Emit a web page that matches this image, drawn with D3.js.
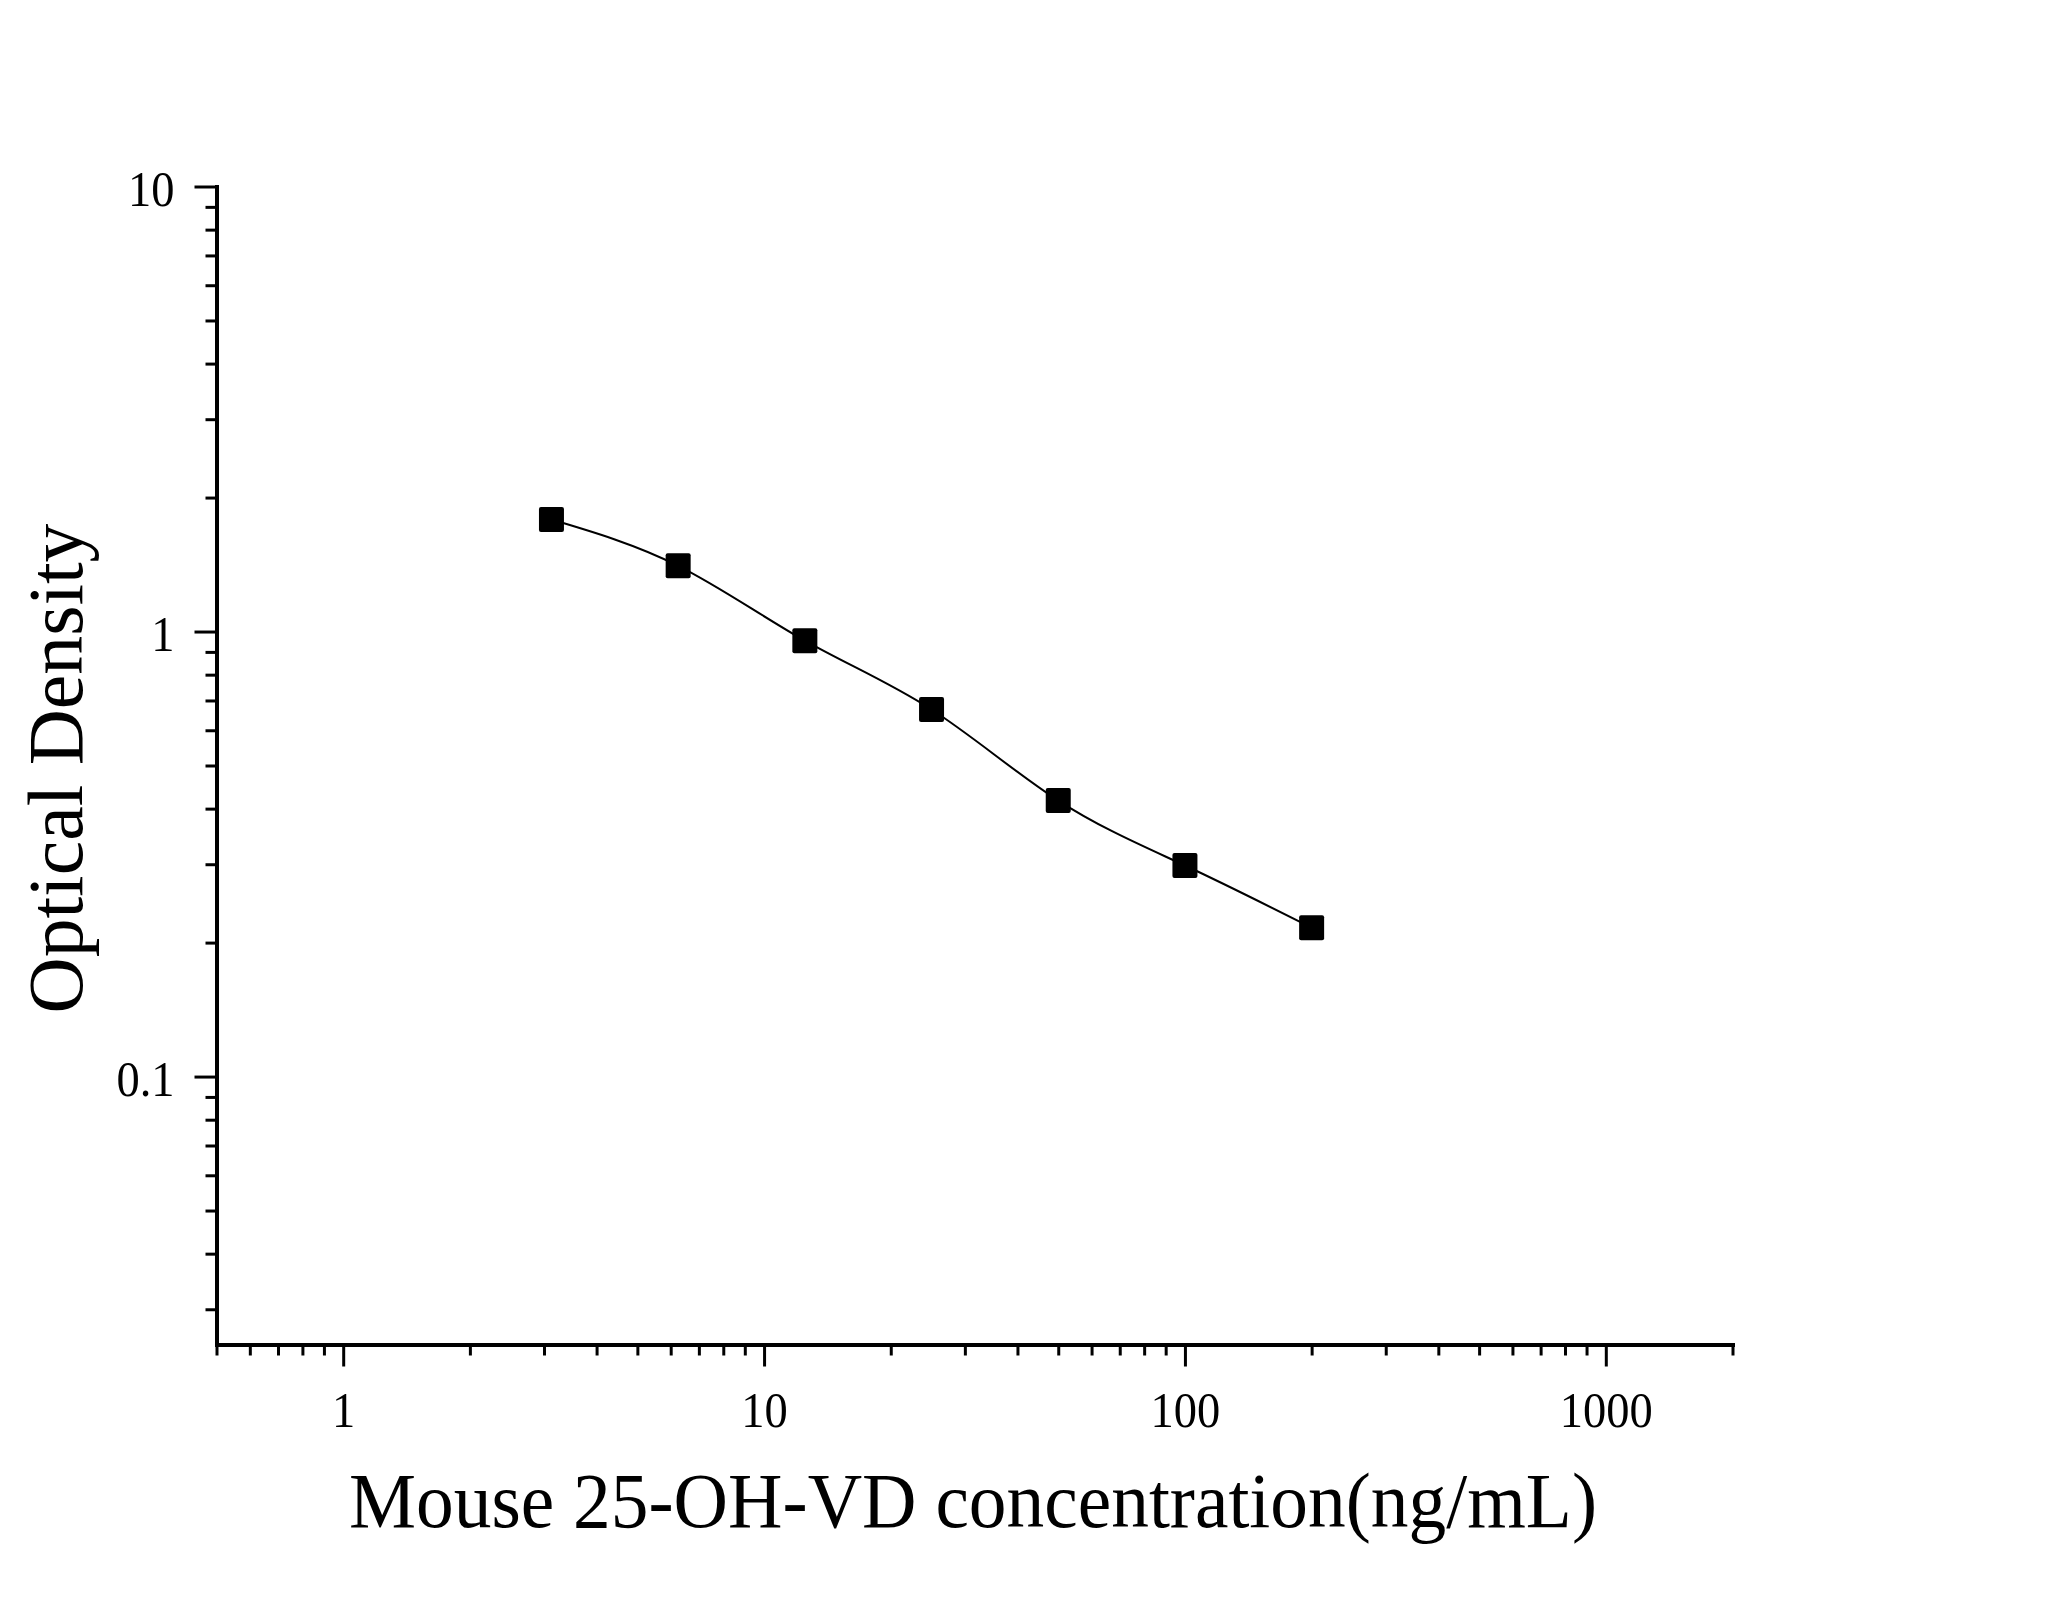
<!DOCTYPE html>
<html>
<head>
<meta charset="utf-8">
<script src="https://cdn.jsdelivr.net/npm/d3@7"></script>
<style>
	body{ margin:0; background:#fff; }
	text{ font-family:"Liberation Serif","Times New Roman",serif; fill:#000; }
</style>
</head>
<body>
<div id="chart"></div>
<script>
// standard curve: concentration (ng/mL) vs OD
var concentration = [3.125, 6.25, 12.5, 25, 50, 100, 200];
var opticalDensity = [1.785, 1.405, 0.954, 0.668, 0.417, 0.298, 0.216];

var xMajorTicks = [1, 10, 100, 1000];
var xMinorTicks = [0.5, 0.6, 0.7, 0.8, 0.9, 2, 3, 4, 5, 6, 7, 8, 9,
	20, 30, 40, 50, 60, 70, 80, 90, 200, 300, 400, 500, 600, 700, 800, 900, 2000];
var yMajorTicks = [0.1, 1, 10];
var yTickLabels = ["0.1", "1", "10"];
var yMinorTicks = [0.03, 0.04, 0.05, 0.06, 0.07, 0.08, 0.09,
	0.2, 0.3, 0.4, 0.5, 0.6, 0.7, 0.8, 0.9, 2, 3, 4, 5, 6, 7, 8, 9];

var xTitle = "Mouse 25-OH-VD concentration(ng/mL)";
var yTitle = "Optical Density";

var W = 2048, H = 1614;
var margin = {left:216.5, top:186.5, right:W - 1732.5, bottom:H - 1344.5};
var width = W - margin.left - margin.right;
var height = H - margin.top - margin.bottom;
var sx = 0.93; // tick labels are a bit narrow in the original

var svg = d3.select("#chart").append("svg")
	.attr("width", W)
	.attr("height", H);

var g = svg.append("g")
	.attr("transform", "translate(" + [margin.left, margin.top] + ")");

var x = d3.scaleLog().domain([0.5, 2000]).range([0, width]);
var y = d3.scaleLog().domain([0.025, 10]).range([height, 0]);

// minor ticks first, then major axis with domain line on top
g.append("g")
	.attr("class", "x minor")
	.attr("transform", "translate(0," + height + ")")
	.call(d3.axisBottom(x).tickValues(xMinorTicks).tickSize(11).tickFormat(""));

g.append("g")
	.attr("class", "y minor")
	.call(d3.axisLeft(y).tickValues(yMinorTicks).tickSize(11).tickFormat(""));

g.append("g")
	.attr("class", "x major")
	.attr("transform", "translate(0," + height + ")")
	.call(d3.axisBottom(x).tickValues(xMajorTicks).tickSize(22).tickSizeOuter(0)
		.tickPadding(25).tickFormat(function(d){ return d; }));

g.append("g")
	.attr("class", "y major")
	.call(d3.axisLeft(y).tickValues(yMajorTicks).tickSize(22).tickSizeOuter(0)
		.tickFormat(function(d, i){ return yTickLabels[i]; }));

g.selectAll(".minor .domain").remove();
g.selectAll(".tick line").attr("stroke", "#000").attr("stroke-width", 3);
g.selectAll(".domain").attr("stroke", "#000").attr("stroke-width", 4).attr("stroke-linecap", "square");
g.selectAll(".major .tick text")
	.style("font-family", "'Liberation Serif', serif")
	.attr("font-size", 50)
	.attr("fill", "#000");
g.selectAll(".x.major .tick text")
	.attr("dy", "0.71em")
	.attr("transform", "scale(" + sx + ",1)");
g.selectAll(".y.major .tick text")
	.attr("dy", "0.38em")
	.attr("x", -42 / sx)
	.attr("transform", "scale(" + sx + ",1)");

// fitted curve through the standards
var line = d3.line()
	.x(function(d, i){ return x(concentration[i]); })
	.y(function(d){ return y(d); })
	.curve(d3.curveNatural);

g.append("path")
	.datum(opticalDensity)
	.attr("fill", "none")
	.attr("stroke", "#000")
	.attr("stroke-width", 2)
	.attr("d", line);

var s = 25;
g.selectAll("rect.pt")
	.data(opticalDensity)
	.enter()
	.append("rect")
	.attr("class", "pt")
	.attr("x", function(d, i){ return x(concentration[i]) - s / 2; })
	.attr("y", function(d){ return y(d) - s / 2; })
	.attr("width", s)
	.attr("height", s)
	.attr("rx", 2)
	.attr("fill", "#000");

// axis titles
svg.append("text")
	.attr("x", 973)
	.attr("y", 1527)
	.attr("text-anchor", "middle")
	.attr("font-size", 79)
	.attr("textLength", 1248)
	.attr("lengthAdjust", "spacingAndGlyphs")
	.text(xTitle);

svg.append("text")
	.attr("transform", "translate(82,768.5) rotate(-90)")
	.attr("text-anchor", "middle")
	.attr("font-size", 79)
	.attr("textLength", 490)
	.attr("lengthAdjust", "spacingAndGlyphs")
	.text(yTitle);
</script>
</body>
</html>
